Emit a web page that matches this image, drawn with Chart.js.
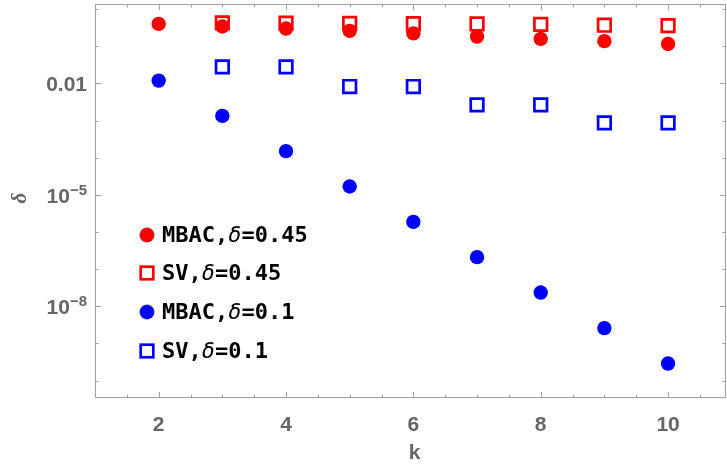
<!DOCTYPE html>
<html><head><meta charset="utf-8">
<script src="https://cdn.jsdelivr.net/npm/chart.js@4/dist/chart.umd.min.js"></script>
<style>html,body{margin:0;padding:0;background:#fff;}#wrap{width:727px;height:464px;}</style>
</head><body><div id="wrap"><canvas id="c" width="727" height="464"></canvas></div>
<script>
// ---- data ----
const kMBAC = [2, 3, 4, 5, 6, 7, 8, 9, 10];
const kSV = [3, 4, 5, 6, 7, 8, 9, 10];
const mbacHigh = [0.402, 0.342, 0.301, 0.261, 0.223, 0.183, 0.159, 0.138, 0.116];
const svHigh = [0.428, 0.420, 0.415, 0.410, 0.400, 0.390, 0.371, 0.362];
const mbacLow = [0.01197, 0.00134, 1.51e-4, 1.68e-5, 1.88e-6, 2.11e-7, 2.35e-8, 2.59e-9, 2.88e-10];
const svLow = [0.028, 0.028, 0.00826, 0.00826, 0.00265, 0.00265, 0.00087, 0.00087];
const seriesNames = ['MBAC', 'SV', 'MBAC', 'SV'];
const seriesDeltas = ['0.45', '0.45', '0.1', '0.1'];
const xTickValues = [2, 4, 6, 8, 10];
const xTickLabels = ['2', '4', '6', '8', '10'];
const yTickValues = [1e-2, 1e-5, 1e-8];
const yTickBases = ['0.01', '10', '10'];
const yTickExps = ['', '\u22125', '\u22128'];
const xTitle = 'k';
const yTitle = '\u03B4';

const RED = '#ff0000', BLUE = '#0000ff';
const pts = (xs, ys) => xs.map((k, i) => ({x: k, y: ys[i]}));
const circ = (c) => ({pointStyle: 'circle', pointRadius: 7.2, pointBackgroundColor: c, pointBorderColor: c, pointBorderWidth: 0, showLine: false});
const sq = (c) => ({pointStyle: 'rect', pointRadius: 8.9, pointBackgroundColor: 'rgba(0,0,0,0)', pointBorderColor: c, pointBorderWidth: 2.7, showLine: false});

const datasets = [
  Object.assign({label: 'MBAC,\u03B4=0.45', data: pts(kMBAC, mbacHigh)}, circ(RED)),
  Object.assign({label: 'SV,\u03B4=0.45', data: pts(kSV, svHigh)}, sq(RED)),
  Object.assign({label: 'MBAC,\u03B4=0.1', data: pts(kMBAC, mbacLow)}, circ(BLUE)),
  Object.assign({label: 'SV,\u03B4=0.1', data: pts(kSV, svLow)}, sq(BLUE)),
];

const FRAME = '#a0a0a0';
const LABEL = '#666666';
const TICKFONT = 'bold 21px "Liberation Sans", Arial, sans-serif';
const SUPFONT = 'bold 15px "Liberation Sans", Arial, sans-serif';
const MONO = '"DejaVu Sans Mono", monospace';

const framePlugin = {
  id: 'mmaFrame',
  afterDatasetsDraw(chart) {
    const {ctx, chartArea: a, scales: {x, y}} = chart;
    ctx.save();
    ctx.strokeStyle = FRAME; ctx.lineWidth = 1;
    ctx.strokeRect(a.left + 0.5, a.top + 0.5, a.right - a.left - 1, a.bottom - a.top - 1);
    ctx.beginPath();
    for (let v = Math.ceil(x.min * 2) / 2; v <= x.max; v += 0.5) {
      const px = Math.round(x.getPixelForValue(v)) + 0.5;
      const len = xTickValues.includes(v) ? 6 : 3.5;
      ctx.moveTo(px, a.bottom); ctx.lineTo(px, a.bottom - len);
      ctx.moveTo(px, a.top); ctx.lineTo(px, a.top + len);
    }
    const eMax = Math.floor(Math.log10(y.max)), eMin = Math.ceil(Math.log10(y.min));
    for (let e = eMax; e >= eMin; e--) {
      const v = Math.pow(10, e);
      const py = Math.round(y.getPixelForValue(v)) + 0.5;
      const len = yTickValues.some(t => Math.abs(Math.log10(t) - e) < 1e-9) ? 6 : 3.5;
      ctx.moveTo(a.left, py); ctx.lineTo(a.left + len, py);
      ctx.moveTo(a.right, py); ctx.lineTo(a.right - len, py);
    }
    ctx.stroke();

    // x tick labels
    ctx.fillStyle = LABEL; ctx.font = TICKFONT;
    ctx.textAlign = 'center'; ctx.textBaseline = 'middle';
    xTickValues.forEach((v, i) => ctx.fillText(xTickLabels[i], x.getPixelForValue(v), 425));
    ctx.fillText(xTitle, (a.left + a.right) / 2 + 4, 453);

    // y tick labels with superscripts
    yTickValues.forEach((v, i) => {
      const py = y.getPixelForValue(v);
      const right = 87;
      ctx.textBaseline = 'alphabetic'; ctx.textAlign = 'right';
      if (yTickExps[i]) {
        ctx.font = SUPFONT;
        const ew = ctx.measureText(yTickExps[i]).width;
        ctx.fillText(yTickExps[i], right, py + 0);
        ctx.font = TICKFONT;
        ctx.fillText(yTickBases[i], right - ew, py + 8);
      } else {
        ctx.font = TICKFONT;
        ctx.fillText(yTickBases[i], right, py + 8);
      }
    });

    // y title
    ctx.save();
    ctx.translate(21, 198); ctx.rotate(-Math.PI / 2);
    ctx.font = 'italic bold 21px "Liberation Serif", serif';
    ctx.textAlign = 'center'; ctx.textBaseline = 'middle';
    ctx.fillText(yTitle, 0, 0);
    ctx.restore();

    // legend
    const rows = [235, 273, 312, 351];
    const mx = 147, tx = 162;
    chart.data.datasets.forEach((ds, i) => {
      const cy = rows[i];
      const c = ds.pointBorderColor;
      if (ds.pointStyle === 'circle') {
        ctx.beginPath(); ctx.arc(mx, cy, 7.3, 0, Math.PI * 2);
        ctx.fillStyle = c; ctx.fill();
        ctx.lineWidth = 0.8; ctx.strokeStyle = 'rgba(90,90,90,0.6)'; ctx.stroke();
      } else {
        const h = 8.9 * Math.SQRT1_2;
        ctx.lineWidth = 2.7; ctx.strokeStyle = c;
        ctx.strokeRect(mx - h, cy - h, 2 * h, 2 * h);
      }
      ctx.fillStyle = '#000'; ctx.textAlign = 'left'; ctx.textBaseline = 'middle';
      let cx = tx;
      const parts = [[seriesNames[i] + ',', 'bold 22px ' + MONO],
                     ['\u03B4', 'italic 22px ' + MONO],
                     ['=' + seriesDeltas[i], 'bold 22px ' + MONO]];
      parts.forEach(([t, f]) => { ctx.font = f; ctx.fillText(t, cx, cy + 1); cx += ctx.measureText(t).width; });
    });
    ctx.restore();
  }
};

new Chart(document.getElementById('c'), {
  type: 'scatter',
  data: {datasets},
  options: {
    responsive: false, animation: false, devicePixelRatio: 1,
    layout: {autoPadding: false, padding: {left: 95, top: 4, right: 1, bottom: 66}},
    plugins: {legend: {display: false}, tooltip: {enabled: false}},
    scales: {
      x: {type: 'linear', min: 1, max: 10.91, display: false},
      y: {type: 'logarithmic', min: 3.4e-11, max: 1.38, display: false}
    }
  },
  plugins: [framePlugin]
});
</script></body></html>
